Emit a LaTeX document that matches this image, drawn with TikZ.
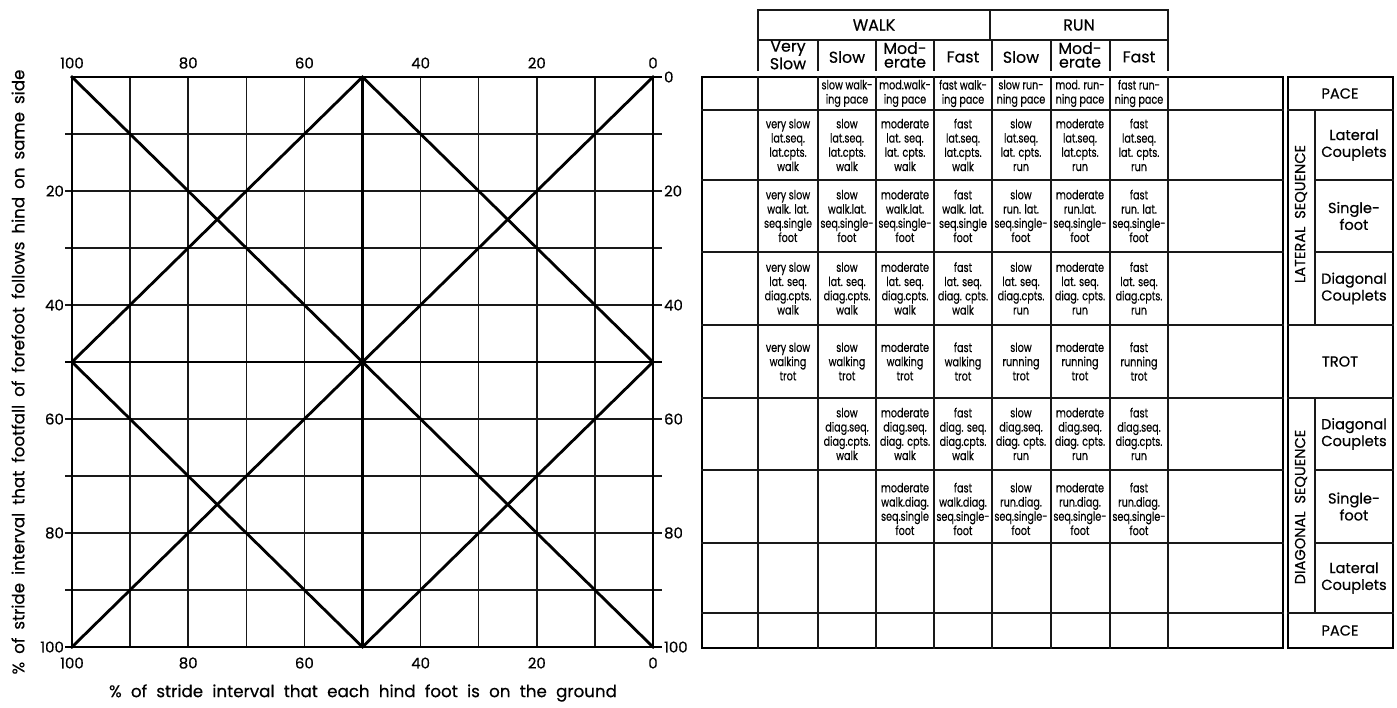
\documentclass[tikz,border=0pt]{standalone}
\usepackage{fontspec}
\setmainfont{Poppins}[FakeBold=0.5]
\newfontfamily\cellfont{Poppins}[FakeStretch=0.76,FakeBold=0.4]

\begin{document}
\begin{tikzpicture}[x=.02cm,y=-.02cm,line cap=rect,
 grid/.style={line width=.9pt,draw=black!90},
 heavy/.style={line width=1.6pt,draw=black},
 rule/.style={line width=.9pt,draw=black!90},
 frame/.style={line width=1.4pt,draw=black},
 tick/.style={font=\fontsize{8.5}{9}\selectfont,inner sep=1pt},
 axis/.style={font=\fontsize{9.5}{11}\selectfont,inner sep=0pt},
 head/.style={font=\fontsize{9}{7.8}\selectfont,align=center,inner sep=0pt},
 cell/.style={font=\cellfont\fontsize{7.2}{8.1}\selectfont,align=center,inner sep=0pt},
 key/.style={font=\fontsize{8.3}{9.6}\selectfont,align=center,inner sep=0pt}]
\useasboundingbox (0,0) rectangle (1397,707);
% left chart: grid, frame and diagonals
\foreach \i in {1,...,9} \draw[grid] ({72+58.1*\i},77) -- ({72+58.1*\i},647);
\foreach \i in {1,...,9} \draw[grid] (66,{77+57*\i}) -- (661,{77+57*\i});
\draw[heavy] (72,77) rectangle (653,647);
\draw[heavy] (653,77) -- (661,77) (66,647) -- (72,647) (653,647) -- (661,647);
\draw[heavy] (362.5,77) -- (362.5,647) (66,362) -- (661,362);
\draw[heavy] (72,77) -- (653,647) (72,647) -- (653,77);
\draw[heavy] (362.5,77) -- (653,362) -- (362.5,647) -- (72,362) -- cycle;
\foreach \v [count=\k from 0] in {100,80,60,40,20,0}
 \node[tick] (top\k) at ({72+116.2*\k},63) {\v};
\foreach \v [count=\k from 0] in {100,80,60,40,20,0}
 \node[tick] (bot\k) at ({72+116.2*\k},663) {\v};
\foreach \v [count=\k] in {20,40,60,80,100}
 \node[tick,anchor=east] (lft\k) at (66,{77+114*\k}) {\v};
\foreach \v [count=\k from 0] in {0,20,40,60,80,100}
 \node[tick,anchor=west] (rgt\k) at (662,{77+114*\k}) {\v};
\node[axis] (xtitle) at (363,693)
 {\makebox[10.16cm][s]{\% of stride interval that each hind foot is on the ground}};
\node[axis,rotate=90] (ytitle) at (18,372)
 {\makebox[12.1cm][s]{\% of stride interval that footfall of forefoot follows hind on same side}};
% gait table: header
\draw[rule] (758,70) -- (758,10) -- (1168,10) -- (1168,70);
\draw[rule] (758,40) -- (1168,40) (990,10) -- (990,40);
\foreach \x in {818,876,934,992,1051,1110} \draw[rule] (\x,40) -- (\x,70);
\node[head] (walk) at (874,25) {WALK};
\node[head] (run) at (1079,25) {RUN};
\node[head] (hvslow) at (788,55) {Very\\Slow};
\node[head] (hwslow) at (847,57) {Slow};
\node[head] (hwmod) at (905,55) {Mod-\\erate};
\node[head] (hwfast) at (963,57) {Fast};
\node[head] (hrslow) at (1021,57) {Slow};
\node[head] (hrmod) at (1080,55) {Mod-\\erate};
\node[head] (hrfast) at (1139,57) {Fast};
% gait table: body
\draw[frame] (702,77) rectangle (1283,648);
\foreach \x in {758,818,876,934,992,1051,1110,1168} \draw[rule] (\x,77) -- (\x,648);
\foreach \y in {110,180,252,325,398,470,543,613} \draw[rule] (702,\y) -- (1283,\y);
\node[cell] (pace2) at (847,93.5) {slow walk-\\ing pace};
\node[cell] (pace3) at (905,93.5) {mod.walk-\\ing pace};
\node[cell] (pace4) at (963,93.5) {fast walk-\\ing pace};
\node[cell] (pace5) at (1021,93.5) {slow run-\\ning pace};
\node[cell] (pace6) at (1080,93.5) {mod. run-\\ning pace};
\node[cell] (pace7) at (1139,93.5) {fast run-\\ning pace};
\node[cell] (llc1) at (788,145) {very slow\\lat.seq.\\lat.cpts.\\walk};
\node[cell] (llc2) at (847,145) {slow\\lat.seq.\\lat.cpts.\\walk};
\node[cell] (llc3) at (905,145) {moderate\\lat. seq.\\lat. cpts.\\walk};
\node[cell] (llc4) at (963,145) {fast\\lat.seq.\\lat.cpts.\\walk};
\node[cell] (llc5) at (1021,145) {slow\\lat.seq.\\lat. cpts.\\run};
\node[cell] (llc6) at (1080,145) {moderate\\lat.seq.\\lat.cpts.\\run};
\node[cell] (llc7) at (1139,145) {fast\\lat.seq.\\lat. cpts.\\run};
\node[cell] (lsf1) at (788,216) {very slow\\walk. lat.\\seq.single\\foot};
\node[cell] (lsf2) at (847,216) {slow\\walk.lat.\\seq.single-\\foot};
\node[cell] (lsf3) at (905,216) {moderate\\walk.lat.\\seq.single-\\foot};
\node[cell] (lsf4) at (963,216) {fast\\walk. lat.\\seq.single\\foot};
\node[cell] (lsf5) at (1021,216) {slow\\run. lat.\\seq.single-\\foot};
\node[cell] (lsf6) at (1080,216) {moderate\\run.lat.\\seq.single-\\foot};
\node[cell] (lsf7) at (1139,216) {fast\\run. lat.\\seq.single-\\foot};
\node[cell] (ldc1) at (788,288.5) {very slow\\lat. seq.\\diag.cpts.\\walk};
\node[cell] (ldc2) at (847,288.5) {slow\\lat. seq.\\diag.cpts.\\walk};
\node[cell] (ldc3) at (905,288.5) {moderate\\lat. seq.\\diag.cpts.\\walk};
\node[cell] (ldc4) at (963,288.5) {fast\\lat. seq.\\diag. cpts.\\walk};
\node[cell] (ldc5) at (1021,288.5) {slow\\lat. seq.\\diag.cpts.\\run};
\node[cell] (ldc6) at (1080,288.5) {moderate\\lat. seq.\\diag. cpts.\\run};
\node[cell] (ldc7) at (1139,288.5) {fast\\lat. seq.\\diag.cpts.\\run};
\node[cell] (trot1) at (788,361.5) {very slow\\walking\\trot};
\node[cell] (trot2) at (847,361.5) {slow\\walking\\trot};
\node[cell] (trot3) at (905,361.5) {moderate\\walking\\trot};
\node[cell] (trot4) at (963,361.5) {fast\\walking\\trot};
\node[cell] (trot5) at (1021,361.5) {slow\\running\\trot};
\node[cell] (trot6) at (1080,361.5) {moderate\\running\\trot};
\node[cell] (trot7) at (1139,361.5) {fast\\running\\trot};
\node[cell] (ddc2) at (847,434) {slow\\diag.seq.\\diag.cpts.\\walk};
\node[cell] (ddc3) at (905,434) {moderate\\diag.seq.\\diag. cpts.\\walk};
\node[cell] (ddc4) at (963,434) {fast\\diag. seq.\\diag.cpts.\\walk};
\node[cell] (ddc5) at (1021,434) {slow\\diag.seq.\\diag. cpts.\\run};
\node[cell] (ddc6) at (1080,434) {moderate\\diag.seq.\\diag. cpts.\\run};
\node[cell] (ddc7) at (1139,434) {fast\\diag.seq.\\diag.cpts.\\run};
\node[cell] (dsf3) at (905,509) {moderate\\walk.diag.\\seq.single\\foot};
\node[cell] (dsf4) at (963,509) {fast\\walk.diag.\\seq.single-\\foot};
\node[cell] (dsf5) at (1021,509) {slow\\run.diag.\\seq.single-\\foot};
\node[cell] (dsf6) at (1080,509) {moderate\\run.diag.\\seq.single-\\foot};
\node[cell] (dsf7) at (1139,509) {fast\\run.diag.\\seq.single-\\foot};
% key column
\draw[frame] (1288,77) rectangle (1393,648);
\foreach \y in {110,325,398,613} \draw[rule] (1288,\y) -- (1393,\y);
\foreach \y in {180,252,470,543} \draw[rule] (1315,\y) -- (1393,\y);
\draw[rule] (1315,110) -- (1315,325) (1315,398) -- (1315,613);
\node[key] (kpace1) at (1340,93.5) {PACE};
\node[key,rotate=90] (klat) at (1301,214) {LATERAL\ \ SEQUENCE};
\node[key] (klc1) at (1354,145) {Lateral\\Couplets};
\node[key] (ksf1) at (1354,216) {Single-\\foot};
\node[key] (kdc1) at (1354,288.5) {Diagonal\\Couplets};
\node[key] (ktrot) at (1340,361.5) {TROT};
\node[key,rotate=90] (kdiag) at (1301,507) {DIAGONAL\ \ SEQUENCE};
\node[key] (kdc2) at (1354,434) {Diagonal\\Couplets};
\node[key] (ksf2) at (1354,506.5) {Single-\\foot};
\node[key] (klc2) at (1354,578) {Lateral\\Couplets};
\node[key] (kpace2) at (1340,630.5) {PACE};
\end{tikzpicture}
\end{document}
